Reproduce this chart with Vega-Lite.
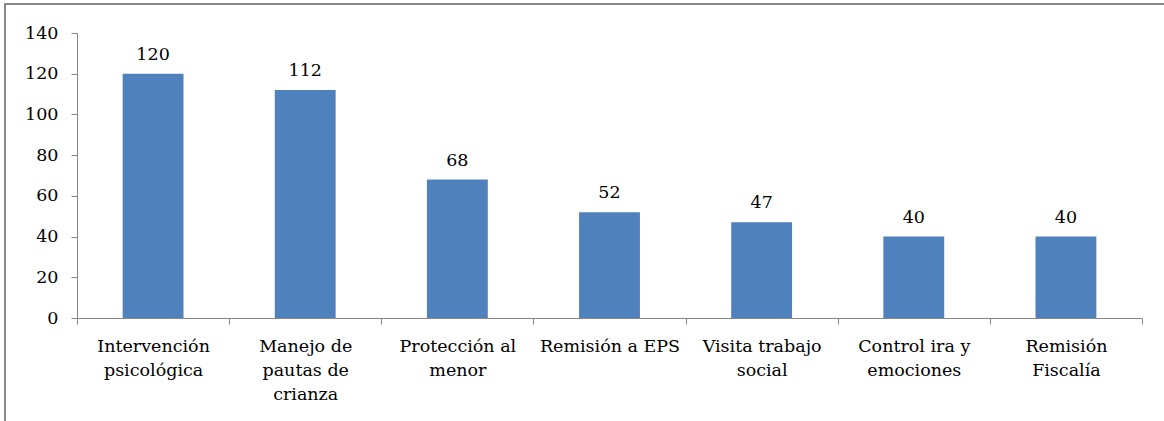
{
  "$schema": "https://vega.github.io/schema/vega-lite/v6.json",
  "width": 1164,
  "height": 421,
  "autosize": {"type": "none"},
  "padding": {"left": 5, "top": 4, "right": 0, "bottom": 0},
  "background": "white",
  "config": {
    "view": {"stroke": "#888888", "strokeWidth": 2},
    "font": "DejaVu Serif"
  },
  "data": {
    "values": [
      {"cat": "Intervención psicológica", "v": 120},
      {"cat": "Manejo de pautas de crianza", "v": 112},
      {"cat": "Protección al menor", "v": 68},
      {"cat": "Remisión a EPS", "v": 52},
      {"cat": "Visita trabajo social", "v": 47},
      {"cat": "Control ira y emociones", "v": 40},
      {"cat": "Remisión Fiscalía", "v": 40}
    ]
  },
  "encoding": {
    "x": {
      "field": "cat",
      "type": "nominal",
      "sort": null,
      "scale": {"range": [72, 1137], "paddingInner": 0, "paddingOuter": 0},
      "axis": {
        "title": null,
        "labelAngle": 0,
        "offset": -107,
        "tickBand": "extent",
        "tickSize": 6,
        "labelPadding": 13,
        "labelLineHeight": 24,
        "labelFontSize": 17.5,
        "labelFont": "DejaVu Serif",
        "labelColor": "black",
        "labelLimit": 0,
        "labelOverlap": false,
        "domainColor": "#868686",
        "tickColor": "#868686",
        "labelExpr": "datum.value == 'Intervención psicológica' ? ['Intervención','psicológica'] : datum.value == 'Manejo de pautas de crianza' ? ['Manejo de','pautas de','crianza'] : datum.value == 'Protección al menor' ? ['Protección al','menor'] : datum.value == 'Visita trabajo social' ? ['Visita trabajo','social'] : datum.value == 'Control ira y emociones' ? ['Control ira y','emociones'] : datum.value == 'Remisión Fiscalía' ? ['Remisión','Fiscalía'] : datum.value"
      }
    },
    "y": {
      "field": "v",
      "type": "quantitative",
      "scale": {"domain": [0, 140], "range": [314, 29], "nice": false},
      "axis": {
        "title": null,
        "grid": false,
        "values": [0, 20, 40, 60, 80, 100, 120, 140],
        "offset": -72,
        "tickSize": 6,
        "labelPadding": 13,
        "labelFontSize": 17.5,
        "labelFont": "DejaVu Serif",
        "labelColor": "black",
        "domainColor": "#868686",
        "tickColor": "#868686"
      }
    }
  },
  "layer": [
    {"mark": {"type": "bar", "color": "#4F81BD", "width": {"band": 0.4}}},
    {
      "mark": {"type": "text", "baseline": "alphabetic", "dy": -14, "fontSize": 17.5, "font": "DejaVu Serif", "color": "black"},
      "encoding": {"text": {"field": "v", "type": "quantitative"}}
    }
  ]
}
